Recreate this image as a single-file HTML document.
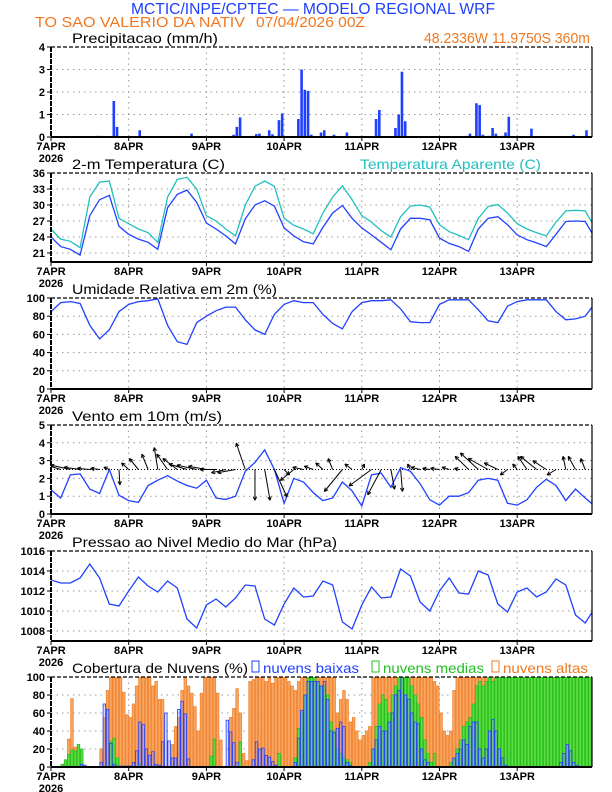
<!DOCTYPE html>
<html><head><meta charset="utf-8">
<style>
html,body{margin:0;padding:0;background:#fff;}
svg{display:block;font-family:"Liberation Sans",sans-serif;}
.tt{font-size:14px;}
.yl{font-size:11px;font-weight:bold;}
.dl{font-size:11px;font-weight:bold;}
</style></head>
<body>
<svg id="chart" width="612" height="792" viewBox="0 0 612 792" xmlns="http://www.w3.org/2000/svg">
<text x="131" y="14" fill="#2040ff" font-size="16" textLength="364" lengthAdjust="spacingAndGlyphs">MCTIC/INPE/CPTEC — MODELO REGIONAL WRF</text>
<text x="35" y="27" fill="#f07820" font-size="15" textLength="210" lengthAdjust="spacingAndGlyphs">TO SAO VALERIO DA NATIV</text>
<text x="256" y="27" fill="#f07820" font-size="15" textLength="109" lengthAdjust="spacingAndGlyphs">07/04/2026 00Z</text>
<text x="424" y="43" fill="#f07820" font-size="15" textLength="166" lengthAdjust="spacingAndGlyphs">48.2336W 11.9750S 360m</text>
</svg>
<script>
// ---- data (3-hourly series, index i -> hour i*3) ----
const stepHours = 3;
const dayLabels = ["7APR","8APR","9APR","10APR","11APR","12APR","13APR"];
const precipTicks = [0,1,2,3,4];
const tempTicks = [21,24,27,30,33,36];
const rhTicks = [0,20,40,60,80,100];
const windTicks = [0,1,2,3,4,5];
const presTicks = [1008,1010,1012,1014,1016];
const cloudTicks = [0,20,40,60,80,100];
const precipHour = [14,15,19,20,24,27,43,56,57,58,62,63,64,65,67,68,70,71,76,77,78,79,80,83,84,87,91,100,101,106,107,108,109,128,129,131,132,133,135,136,137,139,140,141,148,158,161,165];
const precipVal  = [0.05,0.05,1.6,0.45,0.02,0.3,0.15,0.1,0.45,0.87,0.05,0.13,0.15,0.05,0.3,0.12,0.75,1.05,0.8,3.0,2.1,2.05,0.1,0.2,0.3,0.1,0.2,0.8,1.2,0.4,1.0,2.9,0.7,0.05,0.15,1.5,1.42,0.1,0.05,0.4,0.15,0.05,0.2,0.9,0.37,0.03,0.1,0.3];
const tempAir = [24,22.2,21.7,20.6,28,31,31.8,26,24.5,23.6,23,21.7,29.5,32,32.8,30.5,26.6,25.5,24.2,22.7,27.4,30,30.8,29.8,25.7,24.2,23.1,22.7,25.8,28.5,29.9,27.5,25.7,24.4,23,21.6,25.5,27.5,27.5,27.2,23.8,22.8,22.2,21.3,25.5,27.5,27.8,26.3,24.4,23.5,22.9,22.2,24.5,26.9,27,26.9,23.8];
const tempApparent = [25.5,23.6,23.2,22,31.5,34.3,34.5,27.5,26.5,25.5,24.8,23,31.5,34.8,35.2,33,28,27,25.5,24.2,30,33.5,34.5,33.5,27.5,26.2,25.5,24.6,28.5,31.5,33.6,31,28,26.8,25.2,24,27.8,29.8,30,29.6,26.3,25,24.3,23.5,27.5,29.7,30.1,28.5,26.5,25.5,24.8,24.2,26.8,28.9,29,28.9,25.8];
const relHumidity = [85,95,96,94,70,55,65,85,93,96,97,99,70,52,49,73,80,86,90,90,76,65,60,82,93,97,95,95,82,72,66,85,95,97,97,98,88,74,73,73,93,98,98,98,87,75,73,91,96,98,98,98,85,76,77,80,94];
const windSpeed = [1.36,0.9,2.2,2.25,1.4,1.15,2.5,1.05,0.75,0.65,1.6,1.9,2.15,1.85,1.6,1.45,1.9,0.9,0.82,1.0,2.4,2.9,3.6,2.5,0.6,2.0,1.8,1.2,0.75,0.9,1.8,1.3,0.45,2.2,2.3,1.5,2.6,2.4,1.7,0.8,0.5,1.0,1.0,1.2,1.9,2.0,1.9,0.6,0.5,0.8,1.5,1.95,1.6,0.75,1.4,0.9,0.45];
const windU = [-1.8,-2.0,-2.2,-1.8,-1.4,-1.0,-0.6,0.1,-0.8,-1.0,-0.7,-0.4,-1.2,-1.6,-2.0,-2.2,-2.0,-1.8,-1.6,-2.0,-1.0,0.0,0.6,1.4,0.6,-1.5,-1.2,-1.0,-0.8,-0.5,-2.0,-0.8,0.3,-2.5,-1.5,0.4,0.2,-0.3,-1.0,-0.8,-1.0,-0.8,-0.5,-1.5,-2.0,-2.2,-1.5,-0.8,-0.5,-1.0,-1.8,-1.5,-1.0,-0.3,-0.8,-0.5,-0.3];
const windV = [0.6,0.5,0.4,0.2,0.1,0.1,0.2,-1.4,0.6,1.0,1.4,2.0,1.4,1.0,0.5,0.4,0.3,0.0,-0.3,-0.3,2.4,-2.8,-2.8,-2.5,-0.5,-1.0,0.2,0.3,0.6,1.0,-2.0,0.5,0.5,-1.5,-2.3,-1.8,-2.0,0.5,0.2,0.1,0.1,0.2,0.1,1.2,1.5,1.0,0.6,-0.5,0.5,1.2,1.2,0.8,-0.5,1.2,1.2,1.0,0.4];
const pressure = [1013.1,1012.8,1012.8,1013.3,1014.7,1013.3,1010.7,1010.5,1012.0,1013.4,1012.5,1011.9,1013.0,1012.3,1009.2,1008.3,1010.6,1011.2,1010.4,1011.3,1012.6,1012.5,1009.2,1008.6,1010.7,1012.3,1011.4,1011.5,1013.0,1012.6,1008.9,1008.2,1010.6,1012.4,1011.3,1011.4,1014.2,1013.5,1010.9,1010.0,1012.0,1013.3,1011.8,1011.7,1014.0,1013.6,1010.7,1009.9,1011.9,1012.3,1011.4,1011.9,1013.2,1012.6,1009.6,1008.8,1010.3];
// hourly cloud cover (%) hour 0..167
const cloudHigh = [
0,0,0,0,0,31,76,22,19,18,0,0,0,0,0,20,55,85,100,100,100,100,83,58,
55,70,90,100,100,100,100,90,95,75,75,0,0,25,45,55,85,100,90,82,67,40,82,100,
100,100,100,82,30,0,0,55,65,87,60,15,7,95,97,100,100,100,95,100,93,100,100,100,
100,95,90,85,95,100,100,100,100,100,100,100,100,100,100,100,60,75,85,75,50,55,40,30,
35,40,45,100,100,100,100,100,100,100,100,100,100,100,100,100,100,100,100,100,100,100,95,90,
60,40,35,40,85,100,100,100,100,100,100,100,100,100,100,100,100,100,100,100,100,100,100,100,
100,100,100,100,100,100,100,100,100,100,100,100,100,100,100,100,100,100,100,100,100,100,100,100];
const cloudMid = [
0,0,0,3,8,14,19,18,25,20,0,0,0,0,0,0,0,0,28,32,10,0,0,0,
0,0,0,3,0,0,0,0,0,0,0,0,0,0,0,0,0,0,0,0,0,0,0,0,
0,12,31,0,0,0,0,0,0,0,28,0,0,0,0,0,0,0,0,0,0,0,15,0,
0,0,0,10,43,60,80,100,100,100,95,90,90,80,50,40,20,15,10,8,5,0,0,0,
0,0,5,20,45,70,80,75,60,80,90,100,100,100,100,90,80,70,55,30,15,5,15,0,
0,0,0,5,10,20,30,45,50,55,70,90,95,90,95,100,95,100,100,100,100,100,100,100,
100,100,100,100,100,100,100,100,100,100,100,100,100,100,100,100,100,100,100,100,100,100,100,100];
const cloudLow = [
0,0,0,0,0,0,0,0,0,3,2,0,0,0,0,5,70,64,26,3,1,1,1,1,
1,5,18,50,47,20,13,17,3,2,28,60,29,10,10,64,73,59,9,0,0,0,0,0,
0,0,0,0,0,0,52,39,27,5,0,0,0,0,8,28,20,21,13,11,6,2,0,0,
0,0,0,5,32,63,80,95,95,95,95,90,95,75,40,38,43,50,45,5,2,0,0,0,
0,0,0,20,30,45,40,40,50,60,80,85,100,80,75,60,50,48,20,8,5,0,0,0,
0,0,0,0,10,15,20,30,25,45,50,50,20,10,20,40,53,40,20,10,2,0,0,0,
0,0,0,0,0,0,0,0,0,0,0,0,0,5,15,25,18,5,2,0,0,0,0,0];

const NS = "http://www.w3.org/2000/svg";
const svg = document.getElementById("chart");
const X0 = 51, PXH = 3.2375, XEND = 592;
function xh(h){ return X0 + h*PXH; }
function mk(tag, attrs, parent){
  const e = document.createElementNS(NS, tag);
  for (const k in attrs) e.setAttribute(k, attrs[k]);
  (parent||svg).appendChild(e);
  return e;
}
function linScale(v0, y0, v1, y1){ return v => y0 + (v - v0)*(y1 - y0)/(v1 - v0); }

function panel(id, top, bottom, yf, ticks, title, titleW){
  const g = mk("g", {});
  
  
  const cp = mk("clipPath", {id: id + "-clip"}, g);
  mk("rect", {x: X0, y: top, width: XEND - X0, height: bottom - top}, cp);
  ticks.forEach(t => {
    const y = yf(t);
    if (y > top + 1 && y < bottom - 1) {
      const gl = mk("line", {x1: X0, x2: XEND, y1: y, y2: y, stroke: "#999", "stroke-width": 1, "stroke-dasharray": "1.5,4"}, g);
      
      
    }
    mk("line", {x1: X0 - 4, x2: X0, y1: y, y2: y, stroke: "#000", "stroke-width": 1}, g);
    const tl = mk("text", {x: X0 - 6, y: y + 4, "text-anchor": "end", class: "yl"}, g);
    tl.textContent = t;
    
    
  });
  dayLabels.forEach((d, i) => {
    const x = xh(i*24);
    if (i > 0) {
      const vl = mk("line", {x1: x, x2: x, y1: top, y2: bottom, stroke: "#999", "stroke-width": 1, "stroke-dasharray": "1.5,4"}, g);
      
      
    }
    mk("line", {x1: x, x2: x, y1: bottom, y2: bottom + 4, stroke: "#000", "stroke-width": 1}, g);
    const dl = mk("text", {x: x, y: bottom + 13, "text-anchor": "middle", class: "dl"}, g);
    dl.textContent = d;
    
    
  });
  const yr = mk("text", {x: X0, y: bottom + 25, "text-anchor": "middle", class: "dl"}, g);
  yr.textContent = "2026";
  
  
  const tt = mk("text", {x: 72, y: top - 4, class: "tt", textLength: titleW, lengthAdjust: "spacingAndGlyphs"}, g);
  tt.textContent = title;
  
  
  const data = mk("g", {"clip-path": "url(#" + id + "-clip)"}, g);
  
  
  return {g, data, top, bottom, frame(){
    mk("line", {x1: X0, x2: XEND, y1: top, y2: top, stroke: "#000", "stroke-width": 1.2, "stroke-dasharray": "4,2"}, g);
    mk("line", {x1: XEND, x2: XEND, y1: top, y2: bottom, stroke: "#000", "stroke-width": 1.2}, g);
    mk("line", {x1: X0, x2: X0, y1: top, y2: bottom, stroke: "#000", "stroke-width": 2, "stroke-dasharray": "5,1"}, g);
    mk("line", {x1: X0, x2: XEND, y1: bottom, y2: bottom, stroke: "#000", "stroke-width": 2}, g);
  }};
}
function polyline(parent, vals, yf, color, name){
  const pts = vals.map((v, i) => xh(i*stepHours).toFixed(1) + "," + yf(v).toFixed(1)).join(" ");
  const p = mk("polyline", {points: pts, fill: "none", stroke: color, "stroke-width": 1.3}, parent);
  
  
}

// Panel 1 precipitation
const yP = linScale(0, 137, 4, 47);
const p1 = panel("precip", 47, 137, yP, precipTicks, "Precipitacao (mm/h)", 146);
precipHour.forEach((h, i) => {
  const v = precipVal[i];
  const r = mk("rect", {x: xh(h), y: yP(v), width: 2.6, height: 137 - yP(v), fill: "#2040ff"}, p1.data);
  
  
});
p1.frame();

// Panel 2 temperature
const yT = linScale(21, 253, 36, 173);
const p2 = panel("temp", 173, 262, yT, tempTicks, "2-m Temperatura (C)", 153);
const at = mk("text", {x: 360, y: 169, class: "tt", fill: "#20c0c0", textLength: 181, lengthAdjust: "spacingAndGlyphs"}, p2.g);
at.textContent = "Temperatura Aparente (C)";


polyline(p2.data, tempApparent, yT, "#20c0c0", "apparent-temp-line");
polyline(p2.data, tempAir, yT, "#2040ff", "air-temp-line");
p2.frame();

// Panel 3 humidity
const yR = linScale(0, 389, 100, 298);
const p3 = panel("humidity", 298, 389, yR, rhTicks, "Umidade Relativa em 2m (%)", 205);
polyline(p3.data, relHumidity, yR, "#2040ff", "humidity-line");
p3.frame();

// Panel 4 wind
const yW = linScale(0, 514, 5, 425);
const p4 = panel("wind", 425, 514, yW, windTicks, "Vento em 10m (m/s)", 150);
const bl = mk("line", {x1: X0, x2: XEND, y1: yW(2.5), y2: yW(2.5), stroke: "#000", "stroke-width": 1, "stroke-dasharray": "1,2"}, p4.data);


polyline(p4.data, windSpeed, yW, "#2040ff", "wind-speed-line");
const base = yW(2.5);
windU.forEach((u, i) => {
  const v = windV[i];
  const x0 = xh(i*stepHours), y0 = base;
  const x1 = x0 + u*9, y1 = y0 - v*11;
  const ang = Math.atan2(y1 - y0, x1 - x0);
  const ag = mk("g", {stroke: "#000", "stroke-width": 1}, p4.data);
  
  
  mk("line", {x1: x0, y1: y0, x2: x1, y2: y1}, ag);
  [0.45, -0.45].forEach(d => {
    mk("line", {x1: x1, y1: y1, x2: x1 - 4*Math.cos(ang + d), y2: y1 - 4*Math.sin(ang + d)}, ag);
  });
});
p4.frame();

// Panel 5 pressure
const yPr = linScale(1008, 631, 1016, 551);
const p5 = panel("pressure", 551, 641, yPr, presTicks, "Pressao ao Nivel Medio do Mar (hPa)", 265);
polyline(p5.data, pressure, yPr, "#2040ff", "pressure-line");
p5.frame();

// Panel 6 clouds
const yC = linScale(0, 767, 100, 677);
const p6 = panel("clouds", 677, 767, yC, cloudTicks, "Cobertura de Nuvens (%)", 176);
function cloudBars(vals, fill, stroke, name){
  vals.forEach((v, h) => {
    if (v <= 0) return;
    const r = mk("rect", {x: xh(h) + 0.3, y: yC(v), width: 2.5, height: 767 - yC(v), fill: fill, stroke: stroke, "stroke-width": 0.8}, p6.data);
    
    
  });
}
cloudBars(cloudHigh, "#f8a860", "#f08030", "high-cloud-bar");
cloudBars(cloudMid, "#60dd40", "#20c020", "mid-cloud-bar");
cloudBars(cloudLow, "rgba(150,150,255,0.35)", "#2040ff", "low-cloud-bar");
const legend = [["nuvens baixas", "#2040ff", 252, 96], ["nuvens medias", "#20c020", 372, 101], ["nuvens altas", "#f07820", 492, 85]];
legend.forEach(([t, c, x, w]) => {
  const lg = mk("g", {}, p6.g);
  
  
  mk("rect", {x: x, y: 661, width: 7, height: 11, fill: "none", stroke: c, "stroke-width": 1}, lg);
  const tx = mk("text", {x: x + 11, y: 673, class: "tt", fill: c, textLength: w, lengthAdjust: "spacingAndGlyphs"}, lg);
  tx.textContent = t;
});
p6.frame();
</script>
</body></html>
